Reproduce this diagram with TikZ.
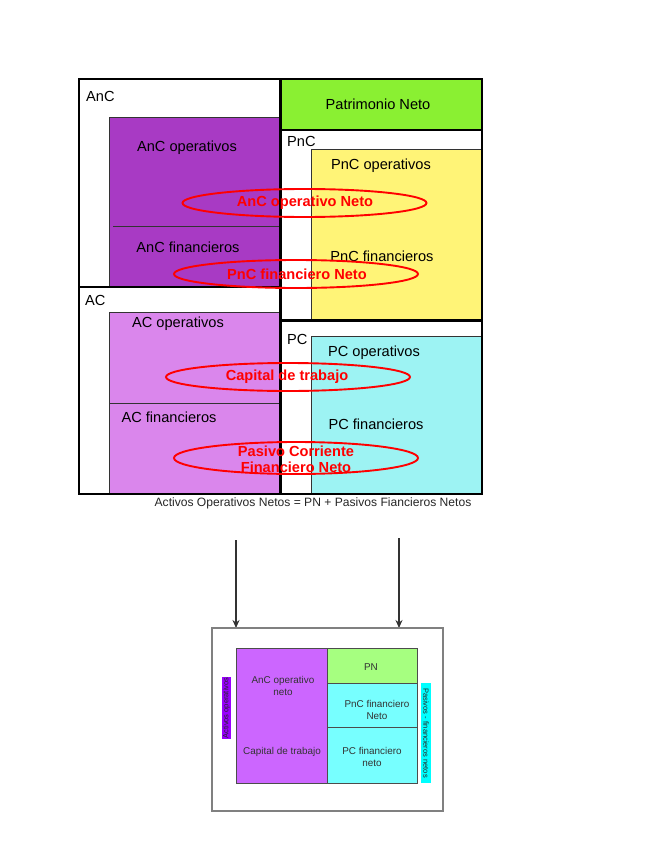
\documentclass[tikz,border=0pt]{standalone}
\usepackage{fontspec}
\setmainfont{Liberation Sans}
\usetikzlibrary{arrows.meta,shapes.geometric}
\definecolor{ancpurple}{RGB}{168,58,196}
\definecolor{acpink}{RGB}{218,134,236}
\definecolor{pngreen}{RGB}{138,240,50}
\definecolor{pncyellow}{RGB}{255,244,119}
\definecolor{pccyan}{RGB}{157,243,243}
\definecolor{lpurple}{RGB}{204,102,255}
\definecolor{lgreen}{RGB}{166,255,128}
\definecolor{lcyan}{RGB}{119,255,255}
\definecolor{violetstrip}{RGB}{153,0,255}
\definecolor{cyanstrip}{RGB}{0,255,255}
\definecolor{redlab}{RGB}{255,0,0}
\tikzset{
  bigtxt/.style={font=\fontsize{14.6}{17}\selectfont, inner sep=0pt},
  redtxt/.style={font=\fontsize{14.6}{16}\selectfont\bfseries, text=redlab, inner sep=0pt, align=center},
  redell/.style={draw=redlab, line width=1.9pt, ellipse, fill=none},
  thickbox/.style={draw=black, line width=2.6pt},
  innerbox/.style={draw=black!80, line width=0.6pt},
  smalltxt/.style={font=\fontsize{9.9}{12}\selectfont, text=black!80, inner sep=0pt, align=center},
  sidelab/.style={font=\fontsize{7.5}{8}\selectfont, text=black!85, inner sep=0pt, align=center},
  downarrow/.style={-{Stealth[length=8pt,width=7pt]}, line width=1.4pt, draw=black!80}
}
\begin{document}
\begin{tikzpicture}[x=1pt,y=-1pt]
\useasboundingbox (0,0) rectangle (655,848);
% ---------- upper diagram: fills ----------
\fill[white] (79,79) rectangle (482,494);
\filldraw[fill=ancpurple, innerbox] (109,117) rectangle (280,287);
\draw[innerbox] (113,226) -- (280,226);
\filldraw[fill=acpink, innerbox] (109,312) rectangle (280,494);
\draw[innerbox] (109,403) -- (280,403);
\filldraw[fill=pngreen, innerbox] (281,79) rectangle (482,130);
\filldraw[fill=pncyellow, innerbox] (311,149) rectangle (482,320);
\filldraw[fill=pccyan, innerbox] (311,336) rectangle (482,494);
% ---------- thick frames ----------
\draw[thickbox] (79,79) rectangle (280,287);
\draw[thickbox] (79,287) rectangle (280,494);
\draw[thickbox] (281,79) rectangle (482,130);
\draw[thickbox] (281,130) rectangle (482,320);
\draw[thickbox] (281,321) rectangle (482,494);
% ---------- labels ----------
\node[bigtxt, anchor=west] (anc) at (86,96) {AnC};
\node[bigtxt, anchor=west] (ac) at (85,300) {AC};
\node[bigtxt, anchor=west] (pnc) at (287,141) {PnC};
\node[bigtxt, anchor=west] (pc) at (287,339) {PC};
\node[bigtxt] (pn) at (378,104) {Patrimonio Neto};
\node[bigtxt] (ancop) at (187,148) {AnC operativos};
\node[bigtxt] (ancfin) at (188,247) {AnC financieros};
\node[bigtxt] (pncop) at (381,166) {PnC operativos};
\node[bigtxt] (pncfin) at (382,256) {PnC financieros};
\node[bigtxt] (acop) at (178,324) {AC operativos};
\node[bigtxt] (acfin) at (169,417) {AC financieros};
\node[bigtxt] (pcop) at (374,353) {PC operativos};
\node[bigtxt] (pcfin) at (376,424) {PC financieros};
% ---------- red ellipses ----------
\node[redell, minimum width=244pt, minimum height=28pt] (e1) at (304.5,203) {};
\node[redtxt] (t1) at (305,203) {AnC operativo Neto};
\node[redell, minimum width=244pt, minimum height=28pt] (e2) at (296,274) {};
\node[redtxt] (t2) at (297,274) {PnC financiero Neto};
\node[redell, minimum width=244pt, minimum height=28pt] (e3) at (288,377) {};
\node[redtxt] (t3) at (287,377) {Capital de trabajo};
\node[redell, minimum width=244pt, minimum height=32pt] (e4) at (296,458) {};
\node[redtxt] (t4) at (296,459) {Pasivo Corriente\\Financiero Neto};
% ---------- caption ----------
\node[font=\fontsize{12.1}{14}\selectfont, text=black!85, inner sep=0pt] (cap) at (313,503) {Activos Operativos Netos = PN + Pasivos Fiancieros Netos};
% ---------- arrows ----------
\coordinate (a1s) at (236,540);
\coordinate (a1e) at (236,628);
\coordinate (a2s) at (399,538);
\coordinate (a2e) at (399,628);
\draw[downarrow] (a1s) -- (a1e);
\draw[downarrow] (a2s) -- (a2e);
% ---------- lower diagram ----------
\draw[draw=black!50, line width=1.3pt] (212,628) rectangle (443,811);
\filldraw[fill=lpurple, draw=black!70, line width=0.8pt] (236,648) rectangle (327,783);
\filldraw[fill=lgreen, draw=black!70, line width=0.8pt] (327,648) rectangle (417,683);
\filldraw[fill=lcyan, draw=black!70, line width=0.8pt] (327,683) rectangle (417,727);
\filldraw[fill=lcyan, draw=black!70, line width=0.8pt] (327,727) rectangle (417,783);
\node[smalltxt] (lanc) at (283,686) {AnC operativo\\neto};
\node[smalltxt] (lct) at (282,752) {Capital de trabajo};
\node[smalltxt] (lpn) at (371,667) {PN};
\node[smalltxt] (lpnc) at (377,710) {PnC financiero\\Neto};
\node[smalltxt] (lpc) at (372,757) {PC financiero\\neto};
\node[sidelab, fill=violetstrip, rotate=90, minimum width=62pt, minimum height=9pt] (lao) at (226.5,708) {Activos operativos};
\node[sidelab, fill=cyanstrip, rotate=-90, minimum width=100pt, minimum height=10pt] (lpf) at (426,733) {Pasivos - financieros netos};
\end{tikzpicture}
\end{document}
